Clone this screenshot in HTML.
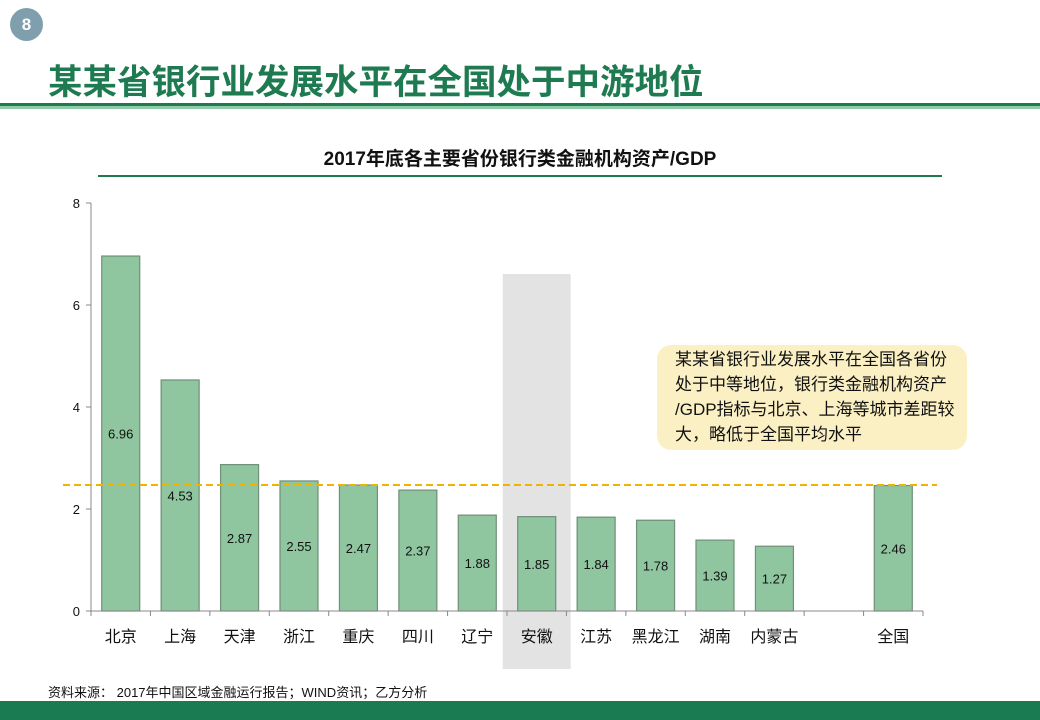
<!DOCTYPE html>
<html><head><meta charset="utf-8">
<style>
body{margin:0;width:1040px;height:720px;position:relative;background:#fff;overflow:hidden;font-family:"Liberation Sans","Noto Sans CJK SC",sans-serif;}
.abs{position:absolute;}
</style></head><body>
<div class="abs" style="left:10px;top:8px;width:33px;height:33px;border-radius:50%;background:#7f9fae;color:#fff;font-weight:bold;font-size:17px;text-align:center;line-height:33px;">8</div>
<div class="abs" style="left:48px;top:54px;font-size:34.5px;font-weight:bold;color:#1e7a50;white-space:nowrap;">某某省银行业发展水平在全国处于中游地位</div>
<div class="abs" style="left:0;top:103px;width:1040px;height:3px;background:#1e7a50;"></div>
<div class="abs" style="left:0;top:106px;width:1040px;height:3px;background:#8ecba6;"></div>
<div class="abs" style="left:98px;top:144px;width:844px;text-align:center;font-size:19px;font-weight:bold;color:#111;white-space:nowrap;">2017年底各主要省份银行类金融机构资产/GDP</div>
<div class="abs" style="left:98px;top:175px;width:844px;height:2px;background:#1e7a50;"></div>
<svg class="abs" style="left:0;top:0" width="1040" height="720" id="chart"></svg>
<div class="abs" style="left:657px;top:345px;width:280px;height:96px;padding:2px 12px 7px 18px;background:#fbf0c4;border-radius:14px;font-size:17px;line-height:25px;color:#111;white-space:nowrap;">某某省银行业发展水平在全国各省份<br>处于中等地位，银行类金融机构资产<br>/GDP指标与北京、上海等城市差距较<br>大，略低于全国平均水平</div>
<div class="abs" style="left:48px;top:682px;font-size:13px;color:#111;white-space:nowrap;">资料来源： 2017年中国区域金融运行报告；WIND资讯；乙方分析</div>
<div class="abs" style="left:0;top:701px;width:1040px;height:19px;background:#1a7a52;"></div>
<script>
const categories=["北京","上海","天津","浙江","重庆","四川","辽宁","安徽","江苏","黑龙江","湖南","内蒙古","","全国"];
const values=[6.96,4.53,2.87,2.55,2.47,2.37,1.88,1.85,1.84,1.78,1.39,1.27,null,2.46];
const valueLabels=["6.96","4.53","2.87","2.55","2.47","2.37","1.88","1.85","1.84","1.78","1.39","1.27","","2.46"];
const yTicks=[0,2,4,6,8];
const averageValue=2.47;
const highlightCategory="安徽";
const NS="http://www.w3.org/2000/svg";
const svg=document.getElementById('chart');
const x0=91,x1=923,y0=611,yTop=203;
const slot=(x1-x0)/categories.length;
const y=v=>y0-(v/8)*(y0-yTop);
const xc=i=>x0+slot*(i+0.5);
function mk(t,a){const e=document.createElementNS(NS,t);for(const k in a)e.setAttribute(k,a[k]);svg.appendChild(e);return e;}
const hi=categories.indexOf(highlightCategory);
let h=mk('rect',{x:xc(hi)-34,y:274,width:68,height:395,fill:'#e3e3e3'});


let ax=mk('line',{x1:x0,y1:yTop,x2:x0,y2:y0,stroke:'#888','stroke-width':1});


yTicks.forEach(t=>{
 mk('line',{x1:x0-5,y1:y(t),x2:x0,y2:y(t),stroke:'#888'});
 let tx=mk('text',{x:x0-11,y:y(t)+5,'text-anchor':'end','font-size':13,fill:'#111'});
 tx.textContent=t;
 
 
});
values.forEach((v,i)=>{
 if(v!=null){
  let r=mk('rect',{x:xc(i)-19,y:y(v),width:38,height:y0-y(v),fill:'#8fc59f',stroke:'#6f8f78','stroke-width':1.2});
  
  
  let l=mk('text',{x:xc(i),y:(y(v)+y0)/2+5,'text-anchor':'middle','font-size':13,fill:'#111'});
  l.textContent=valueLabels[i];
  
  
 }
 let c=mk('text',{x:xc(i),y:642,'text-anchor':'middle','font-size':16,fill:'#111'});
 c.textContent=categories[i];
 
 
});
for(let i=0;i<=categories.length;i++)mk('line',{x1:x0+slot*i,y1:y0,x2:x0+slot*i,y2:y0+5,stroke:'#888'});
let xa=mk('line',{x1:x0,y1:y0,x2:x1,y2:y0,stroke:'#888','stroke-width':1});


let av=mk('line',{x1:63,y1:y(averageValue),x2:937,y2:y(averageValue),stroke:'#f0b400','stroke-width':2,'stroke-dasharray':'7,4'});


</script>
</body></html>
